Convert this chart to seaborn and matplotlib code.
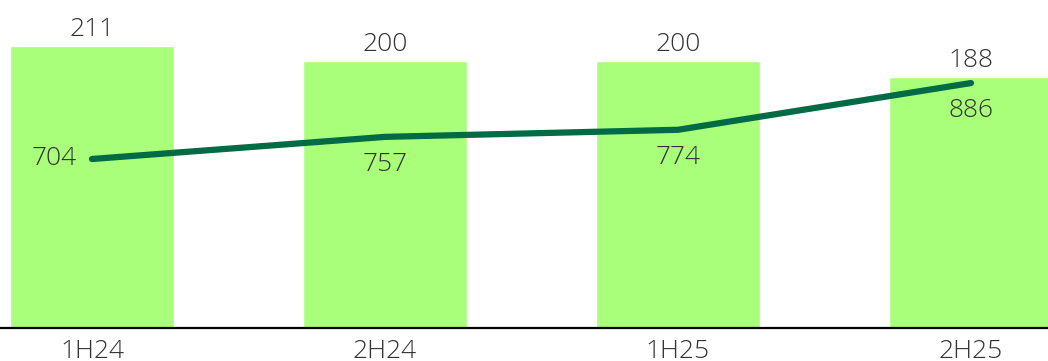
import numpy as np
import pandas as pd
import matplotlib
matplotlib.use('Agg')
import matplotlib.pyplot as plt
import seaborn as sns

# Data
periods = ['1H24', '2H24', '1H25', '2H25']
bar_values = [211, 200, 200, 188]
line_values = [704, 757, 774, 886]

sns.set_style('white')
plt.rcParams['font.family'] = ['Open Sans', 'DejaVu Sans']
plt.rcParams['font.weight'] = 'light'

df = pd.DataFrame({'period': periods, 'bar': bar_values, 'line': line_values})
df['pos'] = np.arange(len(periods))

fig = plt.figure(figsize=(10.48, 3.61), dpi=100)
ax = fig.add_axes([0, 33 / 361, 1, 328 / 361])

sns.barplot(data=df, x='period', y='bar', color='#AAFF7A', saturation=1,
            width=0.56, ax=ax)
ax.set_xlim(-0.314, 3.263)
ax.set_ylim(0, 245.5)
ax.bar_label(ax.containers[0], padding=3, fontsize=19, color='#333333')

for s in ['top', 'right', 'left']:
    ax.spines[s].set_visible(False)
ax.spines['bottom'].set_color('black')
ax.spines['bottom'].set_linewidth(1.6)
ax.set_yticks([])
ax.set_xlabel('')
ax.set_ylabel('')
ax.tick_params(axis='x', length=0, labelsize=19, labelcolor='#333333', pad=8)

ax2 = ax.twinx()
sns.lineplot(data=df, x='pos', y='line', color='#006B45', linewidth=4.5,
             solid_capstyle='round', ax=ax2)
ax2.set_ylim(299, 1085)
ax2.set_xlim(-0.314, 3.263)
ax2.set_yticks([])
ax2.set_ylabel('')
ax2.set_xlabel('')
for s in ax2.spines.values():
    s.set_visible(False)

for i, v in enumerate(line_values):
    if i == 0:
        ax2.annotate(str(v), (i, v), xytext=(-11, 0), textcoords='offset points',
                     ha='right', va='center', fontsize=19, color='#333333')
    else:
        ax2.annotate(str(v), (i, v), xytext=(0, -20), textcoords='offset points',
                     ha='center', va='center', fontsize=19, color='#333333')

fig.savefig('out.png', dpi=100)
